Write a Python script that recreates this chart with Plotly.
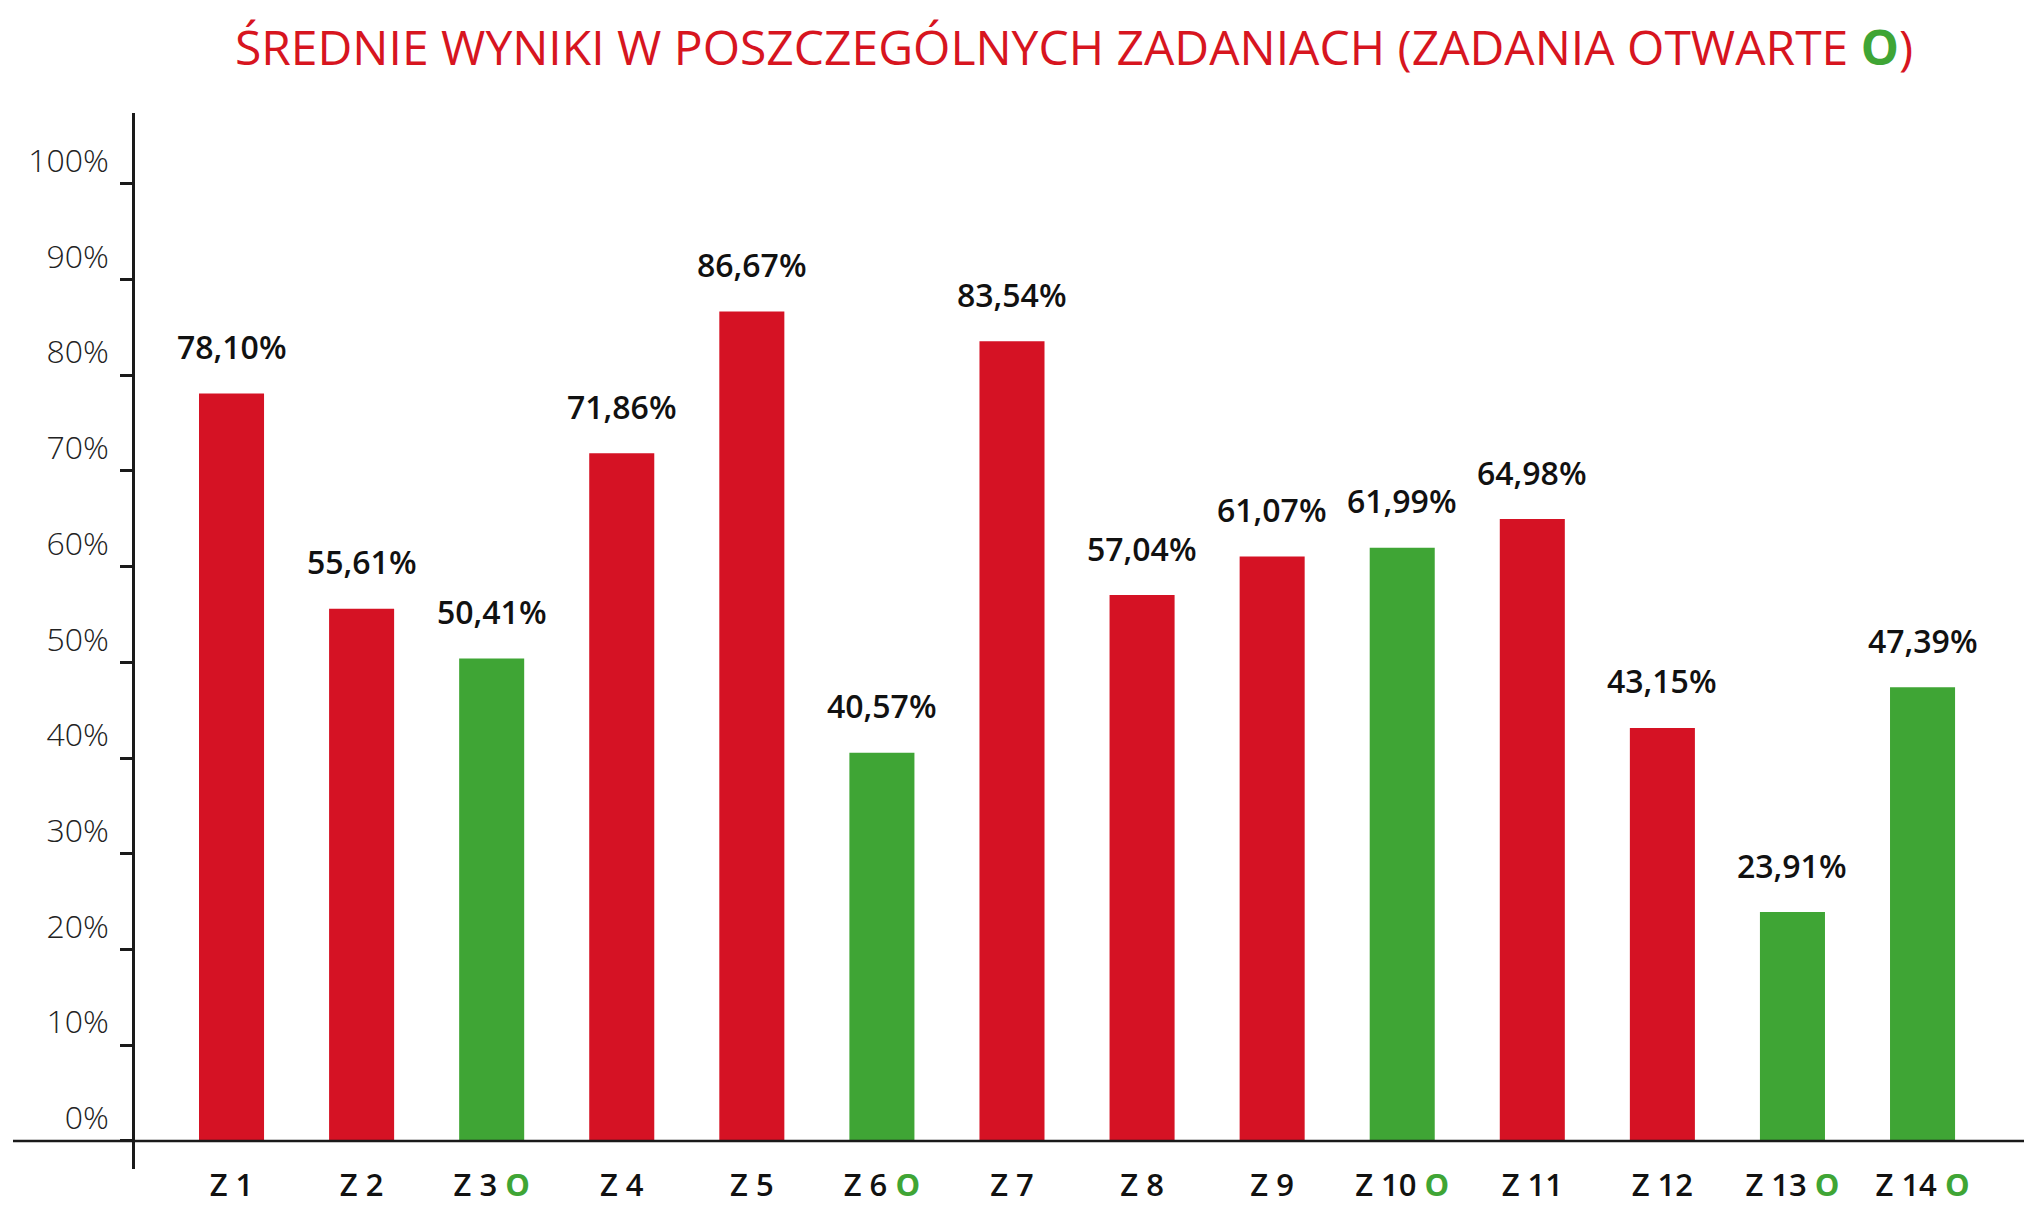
import plotly.graph_objects as go

categories = ["Z 1", "Z 2", "Z 3", "Z 4", "Z 5", "Z 6", "Z 7", "Z 8", "Z 9", "Z 10", "Z 11", "Z 12", "Z 13", "Z 14"]
values = [78.10, 55.61, 50.41, 71.86, 86.67, 40.57, 83.54, 57.04, 61.07, 61.99, 64.98, 43.15, 23.91, 47.39]
open_task = [False, False, True, False, False, True, False, False, False, True, False, False, True, True]
y_ticks = [0, 10, 20, 30, 40, 50, 60, 70, 80, 90, 100]
y_ticktext = ["0%", "10%", "20%", "30%", "40%", "50%", "60%", "70%", "80%", "90%", "100%"]

RED = "#D51224"
GREEN = "#3FA535"
INK = "#1a1a1a"

bar_colors = [GREEN if o else RED for o in open_task]
value_labels = [f"{v:.2f}%".replace(".", ",") for v in values]
x_ticktext = [
    (c + " <span style='color:%s'><b>O</b></span>" % GREEN) if o else c
    for c, o in zip(categories, open_task)
]

# figure sits inside the page body (8px margin), so it is sized to fit the window
W, H = 2017, 1215
L, R, T, B = 127, 1, 105, 54
plot_w = W - L - R

fig = go.Figure()
fig.add_trace(go.Bar(
    x=categories, y=values, width=0.5,
    marker=dict(color=bar_colors, line=dict(width=0)),
    hoverinfo="x+y",
))

for c, v, t in zip(categories, values, value_labels):
    fig.add_annotation(
        x=c, y=v, text=t, showarrow=False, yanchor="middle", yshift=47,
        font=dict(family="Open Sans", size=32, color="#111111", weight=600),
    )

# horizontal baseline extending left past the y axis
fig.add_shape(type="line", xref="paper", yref="y",
              x0=(5 - L) / plot_w, x1=1, y0=0, y1=0,
              line=dict(color=INK, width=2.5), layer="above")

fig.update_layout(
    width=W, height=H,
    margin=dict(l=L, r=R, t=T, b=B),
    paper_bgcolor="white", plot_bgcolor="white",
    showlegend=False,
    title=dict(
        text="ŚREDNIE WYNIKI W POSZCZEGÓLNYCH ZADANIACH (ZADANIA OTWARTE "
             "<span style='color:%s'><b>O</b></span>)" % GREEN,
        x=(1066 - L) / plot_w, xref="paper", xanchor="center",
        y=1 - 40 / H, yref="container", yanchor="middle",
        font=dict(family="Open Sans", size=48, color="#D7151F"),
    ),
    xaxis=dict(
        type="category",
        tickmode="array", tickvals=categories, ticktext=x_ticktext,
        range=[-0.742, 13.78],
        showline=False, zeroline=False, showgrid=False, ticks="",
        tickfont=dict(family="Open Sans", size=31, color="#111111", weight=600),
        ticklabelstandoff=-5,
    ),
    yaxis=dict(
        range=[-2.93, 107.4],
        tickmode="array", tickvals=y_ticks, ticktext=y_ticktext,
        showline=True, linecolor=INK, linewidth=2.5,
        ticks="outside", ticklen=12, tickwidth=2.5, tickcolor=INK,
        showgrid=False, zeroline=False,
        tickfont=dict(family="Open Sans", size=32, color="#222222", weight=300),
        ticklabelshift=-23, ticklabelstandoff=5,
    ),
)

fig.write_html("out.html")
